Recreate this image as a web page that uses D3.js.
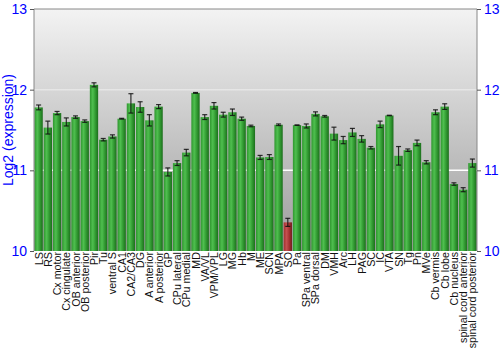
<!DOCTYPE html>
<html>
<head>
  <script src="https://cdn.jsdelivr.net/npm/d3@7"></script>
  <style>
    body { margin: 0; background: #fff; }
    svg { display: block; font-family: "Liberation Sans", Arial, sans-serif; }
  </style>
</head>
<body>
  <div id="chart"></div>
  <script>
    // Regionen (Kategorien)
    const regions = ["LS", "RS", "Cx motor", "Cx cingulate", "OB anterior", "OB posterior", "Pir", "Tu",
      "ventral S", "CA1", "CA2/CA3", "DG", "A anterior", "A posterior", "GP", "CPu lateral", "CPu medial",
      "MD", "VA/VL", "VPM/VPL", "LG", "MG", "Hb", "M", "ME", "SCN", "MPA", "SO", "Pa", "SPa ventral",
      "SPa dorsal", "DM", "VMH", "Arc", "LH", "PAG", "SC", "IC", "VTA", "SN", "Tg", "Pn", "MVe",
      "Cb vermis", "Cb lobe", "Cb nucleus", "spinal cord anterior", "spinal cord posterior"];
    // Log2-Expression
    const values = [11.78, 11.53, 11.71, 11.60, 11.66, 11.61, 12.06, 11.38,
      11.42, 11.64, 11.83, 11.785, 11.62, 11.79, 10.98, 11.09, 11.22,
      11.96, 11.66, 11.80, 11.69, 11.72, 11.64, 11.55, 11.16, 11.165, 11.565, 10.355, 11.56, 11.55,
      11.70, 11.67, 11.455, 11.375, 11.47, 11.39, 11.28, 11.57, 11.68, 11.18, 11.25, 11.34, 11.10,
      11.72, 11.79, 10.83, 10.76, 11.09];
    // Fehlerbalken (+/-)
    const errors = [0.03, 0.08, 0.02, 0.05, 0.015, 0.015, 0.025, 0.015,
      0.02, 0.005, 0.12, 0.065, 0.07, 0.025, 0.05, 0.03, 0.04,
      0.005, 0.03, 0.04, 0.03, 0.04, 0.02, 0.01, 0.025, 0.03, 0.01, 0.05, 0.003, 0.025,
      0.025, 0.01, 0.08, 0.045, 0.05, 0.04, 0.015, 0.04, 0.003, 0.115, 0.015, 0.035, 0.02,
      0.03, 0.035, 0.015, 0.025, 0.05];
    const highlighted = ["SO"];
    const yTicks = [10, 11, 12, 13];
    const yTitle = "Log2 (expression)";

    const W = 500, H = 350;
    const plotLeft = 34, plotRight = 477, plotTop = 9, plotBottom = 251;

    const data = regions.map((r, i) => ({ name: r, value: values[i], err: errors[i] }));

    const svg = d3.select("#chart").append("svg")
      .attr("width", W)
      .attr("height", H);

    const defs = svg.append("defs");

    // Hintergrundverlauf
    const bg = defs.append("linearGradient").attr("id", "bg")
      .attr("x1", 0).attr("y1", 0).attr("x2", 0).attr("y2", 1);
    bg.append("stop").attr("offset", "0%").attr("stop-color", "#f3f3f3");
    bg.append("stop").attr("offset", "100%").attr("stop-color", "#9c9c9c");

    // Zylinder-Effekt für die Säulen
    function barGradient(id, dark, mid, light) {
      const g = defs.append("linearGradient").attr("id", id)
        .attr("x1", 0).attr("y1", 0).attr("x2", 1).attr("y2", 0);
      g.append("stop").attr("offset", "0%").attr("stop-color", mid);
      g.append("stop").attr("offset", "35%").attr("stop-color", light);
      g.append("stop").attr("offset", "70%").attr("stop-color", mid);
      g.append("stop").attr("offset", "100%").attr("stop-color", dark);
    }
    barGradient("green", "#1c6e1c", "#2f962f", "#4fbf4f");
    barGradient("red", "#6e1c1c", "#a23030", "#c45050");

    const x = d3.scaleBand()
      .domain(regions)
      .range([plotLeft, plotRight])
      .paddingInner(0.1)
      .paddingOuter(0.05);

    const y = d3.scaleLinear()
      .domain([10, 13])
      .range([plotBottom, plotTop]);

    svg.append("rect")
      .attr("x", plotLeft).attr("y", plotTop)
      .attr("width", plotRight - plotLeft).attr("height", plotBottom - plotTop)
      .attr("fill", "url(#bg)");

    // Gitterlinien
    svg.selectAll("line.grid")
      .data(yTicks.filter(t => t > 10 && t < 13))
      .enter()
      .append("line")
      .attr("class", "grid")
      .attr("x1", plotLeft).attr("x2", plotRight)
      .attr("y1", d => y(d)).attr("y2", d => y(d))
      .attr("stroke", d => d === 12 ? "#e6e6e6" : "#ffffff")
      .attr("stroke-width", 1.5);

    // Säulen
    svg.selectAll("rect.bar")
      .data(data)
      .enter()
      .append("rect")
      .attr("class", "bar")
      .attr("x", d => x(d.name))
      .attr("y", d => y(d.value))
      .attr("width", x.bandwidth())
      .attr("height", d => plotBottom - y(d.value))
      .attr("fill", d => highlighted.includes(d.name) ? "url(#red)" : "url(#green)");

    // Fehlerbalken
    const eb = svg.selectAll("g.err")
      .data(data)
      .enter()
      .append("g")
      .attr("class", "err")
      .attr("stroke", "#111")
      .attr("stroke-opacity", 0.85);
    eb.append("line")
      .attr("x1", d => x(d.name) + x.bandwidth() / 2)
      .attr("x2", d => x(d.name) + x.bandwidth() / 2)
      .attr("y1", d => y(d.value + d.err))
      .attr("y2", d => y(d.value - d.err))
      .attr("stroke-width", 1.2);
    eb.selectAll("line.cap")
      .data(d => [d.value + d.err, d.value - d.err].map(v => ({ name: d.name, v: v })))
      .enter()
      .append("line")
      .attr("class", "cap")
      .attr("x1", d => x(d.name) + x.bandwidth() / 2 - 2.5)
      .attr("x2", d => x(d.name) + x.bandwidth() / 2 + 2.5)
      .attr("y1", d => y(d.v))
      .attr("y2", d => y(d.v))
      .attr("stroke-width", 1.2);

    // Rahmen
    svg.append("line").attr("x1", plotLeft).attr("x2", plotLeft).attr("y1", plotTop).attr("y2", plotBottom)
      .attr("stroke", "#888");
    svg.append("line").attr("x1", plotRight).attr("x2", plotRight).attr("y1", plotTop).attr("y2", plotBottom)
      .attr("stroke", "#888");
    svg.append("line").attr("x1", plotLeft).attr("x2", plotRight).attr("y1", plotTop).attr("y2", plotTop)
      .attr("stroke", "#888");

    // Achsen links und rechts
    const leftAxis = svg.append("g")
      .attr("transform", `translate(${plotLeft},0)`)
      .call(d3.axisLeft(y).tickValues(yTicks).tickSize(4).tickPadding(3).tickFormat(d3.format("d")));
    const rightAxis = svg.append("g")
      .attr("transform", `translate(${plotRight},0)`)
      .call(d3.axisRight(y).tickValues(yTicks).tickSize(4).tickPadding(3).tickFormat(d3.format("d")));
    [leftAxis, rightAxis].forEach(a => {
      a.select(".domain").remove();
      a.selectAll(".tick line").attr("stroke", "#555");
      a.selectAll(".tick text")
        .attr("fill", "#0000ff")
        .style("font-size", "14px")
        .style("font-family", "Liberation Sans, Arial, sans-serif");
    });

    // Achsentitel
    svg.append("text")
      .attr("transform", `translate(13,${(plotTop + plotBottom) / 2}) rotate(-90)`)
      .attr("text-anchor", "middle")
      .attr("fill", "#0000ff")
      .style("font-size", "14px")
      .text(yTitle);

    // Kategorienbeschriftung
    svg.selectAll("text.cat")
      .data(regions)
      .enter()
      .append("text")
      .attr("class", "cat")
      .attr("transform", d => `translate(${x(d) + x.bandwidth() / 2 + 4},${plotBottom + 1}) rotate(-90)`)
      .attr("text-anchor", "end")
      .attr("fill", "#111")
      .style("font-size", "10.7px")
      .text(d => d);
  </script>
</body>
</html>
